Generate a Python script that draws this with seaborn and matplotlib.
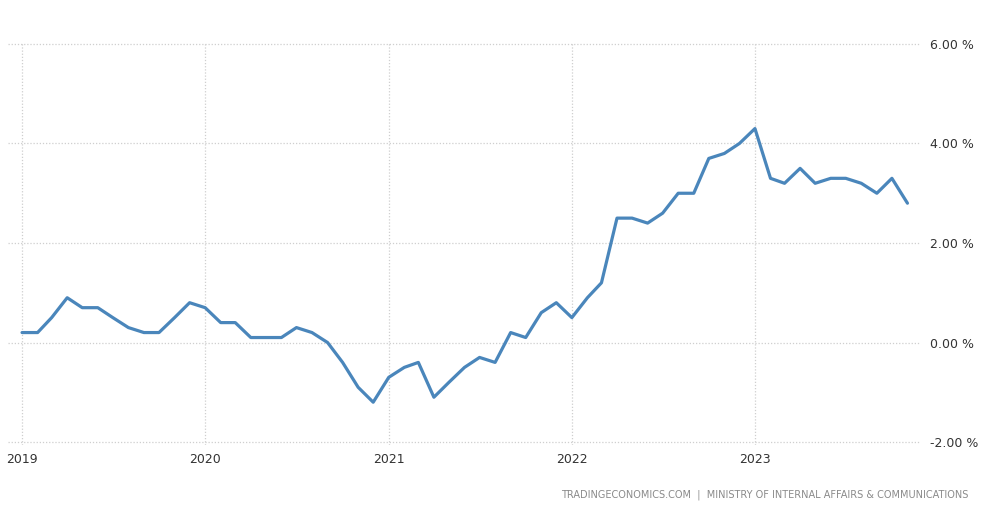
import matplotlib
matplotlib.use("Agg")
import matplotlib.pyplot as plt
import seaborn as sns
import pandas as pd

months = pd.date_range("2019-01-01", "2023-11-01", freq="MS")
values = [0.2, 0.2, 0.5, 0.9, 0.7, 0.7, 0.5, 0.3, 0.2, 0.2, 0.5, 0.8,
          0.7, 0.4, 0.4, 0.1, 0.1, 0.1, 0.3, 0.2, 0.0, -0.4, -0.9, -1.2,
          -0.7, -0.5, -0.4, -1.1, -0.8, -0.5, -0.3, -0.4, 0.2, 0.1, 0.6, 0.8,
          0.5, 0.9, 1.2, 2.5, 2.5, 2.4, 2.6, 3.0, 3.0, 3.7, 3.8, 4.0,
          4.3, 3.3, 3.2, 3.5, 3.2, 3.3, 3.3, 3.2, 3.0, 3.3, 2.8]
year_ticks = ["2019", "2020", "2021", "2022", "2023"]
y_ticks = [-2, 0, 2, 4, 6]
source = "TRADINGECONOMICS.COM  |  MINISTRY OF INTERNAL AFFAIRS & COMMUNICATIONS"

df = pd.DataFrame({"date": months, "value": values})

sns.set_style("white")
plt.rcParams['font.family'] = ['DejaVu Sans']

fig = plt.figure(figsize=(9.92, 5.15), dpi=100)
# axes spans y 41.5..444.5 px so that -2.05..6.05 maps with -2 at 442, 6 at 44
ax = fig.add_axes([8/992, 1-444.5/515, (920-8)/992, (444.5-41.5)/515])

sns.lineplot(data=df, x="date", y="value", ax=ax, color="#4a86bb", linewidth=2.3)

ax.set_xlim(pd.Timestamp("2018-12-04"), pd.Timestamp("2023-11-26"))
ax.set_ylim(-2.05, 6.05)
ax.set_xticks([pd.Timestamp(f"{y}-01-01") for y in year_ticks])
ax.set_xticklabels(year_ticks)
ax.set_yticks(y_ticks)
ax.set_yticklabels([f"{v:.2f} %" for v in y_ticks])
ax.yaxis.tick_right()
ax.tick_params(axis="y", length=0, pad=7, labelsize=9, labelcolor="#333333")
ax.tick_params(axis="x", length=0, pad=6, labelsize=9, labelcolor="#333333")
for lab in ax.get_yticklabels():
    lab.set_horizontalalignment("left")
ax.grid(True, color="#cfcfcf", linestyle=(0, (1, 1.5)), linewidth=0.9)
for s in ax.spines.values():
    s.set_visible(False)
ax.set_xlabel("")
ax.set_ylabel("")

fig.text(968/992, 1-495/515, source, ha="right", va="center", fontsize=7, color="#8a8a8a")

fig.savefig("out.png", dpi=100)
